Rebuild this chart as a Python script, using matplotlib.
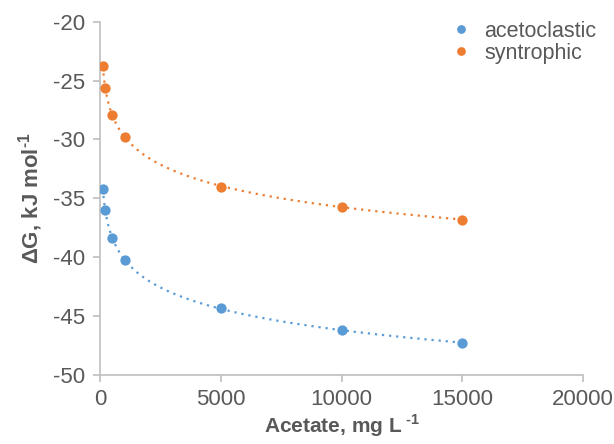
import numpy as np
import matplotlib
matplotlib.use('Agg')
import matplotlib.pyplot as plt

plt.rcParams['font.family'] = ['Liberation Sans', 'DejaVu Sans']
plt.rcParams['axes.unicode_minus'] = False
plt.rcParams['mathtext.fontset'] = 'custom'
plt.rcParams['mathtext.rm'] = 'Liberation Sans:bold'

acetate = [100, 200, 500, 1000, 5000, 10000, 15000]
acetoclastic = [-34.2, -36.0, -38.4, -40.2, -44.3, -46.2, -47.3]
syntrophic = [-23.8, -25.6, -27.9, -29.8, -34.0, -35.7, -36.8]

blue = '#5B9BD5'
orange = '#ED7D31'
grey_txt = '#595959'
grey_ax = '#BFBFBF'

fig = plt.figure(figsize=(6.14, 4.44), dpi=100)
ax = fig.add_axes([0.1635, 0.1554, 0.7855, 0.7957])

x = np.array(acetate, dtype=float)
xs = np.linspace(x.min(), x.max(), 400)
for ys, col, lab in [(acetoclastic, blue, 'acetoclastic'),
                     (syntrophic, orange, 'syntrophic')]:
    # logarithmic trendline, like excel
    k, b = np.polyfit(np.log(x), ys, 1)
    ax.plot(xs, k * np.log(xs) + b, color=col, lw=1.6,
            ls=(0, (1, 2.2)), zorder=2)
    ax.plot(x, ys, 'o', color=col, ms=7.4, mec='none', label=lab, zorder=3)

ax.set_xlim(0, 20000)
ax.set_ylim(-50, -20)
ax.set_xticks([0, 5000, 10000, 15000, 20000])
ax.set_yticks(range(-50, -19, 5))

for s in ['top', 'right']:
    ax.spines[s].set_visible(False)
for s in ['left', 'bottom']:
    ax.spines[s].set_color(grey_ax)
    ax.spines[s].set_linewidth(1.2)
ax.tick_params(colors=grey_ax, labelcolor=grey_txt, labelsize=16,
               length=5, width=1.2, direction='out')
ax.tick_params(axis='y', pad=6)
ax.tick_params(axis='x', pad=5)

ax.set_ylabel('ΔG, kJ mol$^{\\text{-1}}$', fontsize=16, fontweight='bold',
              color=grey_txt, labelpad=6)
ax.set_xlabel('Acetate, mg L$^{\\text{ -1}}$', fontsize=15,
              fontweight='bold', color=grey_txt, labelpad=2)

leg = ax.legend(loc='upper right', bbox_to_anchor=(1.06, 1.045), frameon=False,
                fontsize=15.5, handletextpad=0.5, labelspacing=0.05,
                handlelength=1.2, borderaxespad=0.3, markerscale=0.85)
for t in leg.get_texts():
    t.set_color(grey_txt)

fig.savefig('out.png', dpi=100)
